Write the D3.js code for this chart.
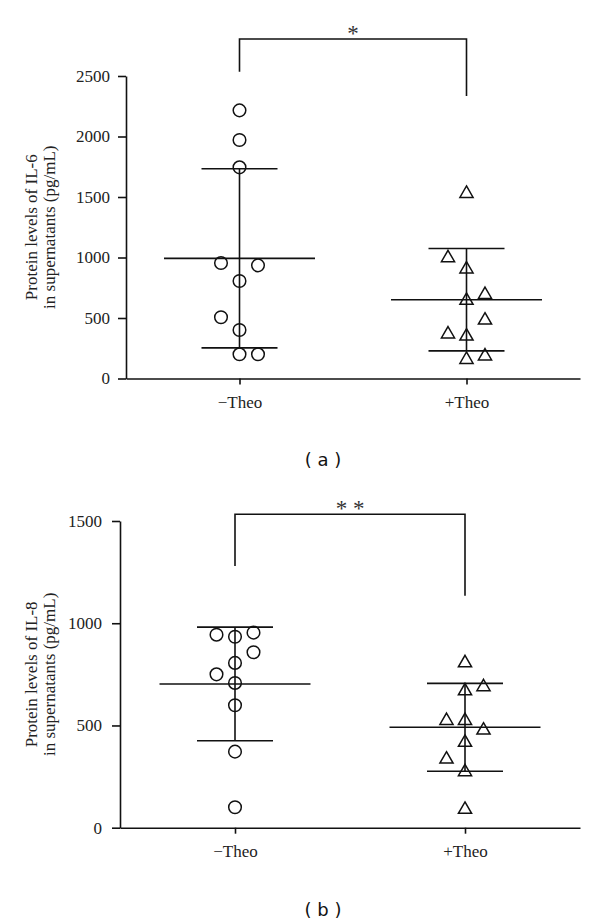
<!DOCTYPE html>
<html>
<head>
<meta charset="utf-8">
<script src="https://d3js.org/d3.v7.min.js"></script>
<style>
body { margin: 0; background: #fff; }
</style>
</head>
<body>
<div id="chart"></div>
<script>
var groups = ["\u2212Theo", "+Theo"];

/* (a) IL-6 */
var il6Title = ["Protein levels of IL-6", "in supernatants (pg/mL)"];
var il6Ticks = [0, 500, 1000, 1500, 2000, 2500];
var il6Minus = [2216, 1971, 1745, 954, 935, 806, 506, 401, 200, 200];
var il6MinusSlot = [0, 0, 0, -1, 1, 0, -1, 0, 0, 1];
var il6Plus = [1544, 1012, 919, 709, 660, 497, 382, 365, 200, 172];
var il6PlusSlot = [0, -1, 0, 1, 0, 1, -1, 0, 1, 0];
var il6Mean = [993, 651];
var il6Sd = [740, 423];
var il6Bracket = [2806, 2535, 2335];   // top, left leg end, right leg end
var il6Sig = "*";

/* (b) IL-8 */
var il8Title = ["Protein levels of IL-8", "in supernatants (pg/mL)"];
var il8Ticks = [0, 500, 1000, 1500];
var il8Minus = [944, 934, 954, 858, 806, 750, 708, 599, 372, 100];
var il8MinusSlot = [-1, 0, 1, 1, 0, -1, 0, 0, 0, 0];
var il8Plus = [815, 678, 698, 533, 533, 486, 426, 344, 282, 98];
var il8PlusSlot = [0, 0, 1, -1, 0, 1, 0, -1, 0, 0];
var il8Mean = [703, 491];
var il8Sd = [278, 215];
var il8Bracket = [1533, 1280, 1134];
var il8Sig = "* *";

var serif = "'Liberation Serif', 'Times New Roman', serif";
var ink = "#111";

var svg = d3.select("#chart").append("svg")
    .attr("width", 600)
    .attr("height", 923);

function drawPanel(p)
{
    var g = svg.append("g");

    var x = d3.scalePoint().domain(groups).range([p.left, 580]).padding(0.5);
    var y = d3.scaleLinear().domain([0, d3.max(p.ticks)]).range([p.bottom, p.top]);
    var jit = d3.scaleLinear().domain([-1, 1]).range([-18.5, 18.5]);

    /* axes */
    var ya = g.append("g")
        .attr("transform", "translate(" + p.left + ",0)")
        .call(d3.axisLeft(y).tickValues(p.ticks).tickFormat(d3.format("d"))
            .tickSize(8).tickSizeOuter(0).tickPadding(p.yPad));
    var xa = g.append("g")
        .attr("transform", "translate(0," + p.bottom + ")")
        .call(d3.axisBottom(x).tickSize(6).tickSizeOuter(0).tickPadding(11));
    [ya, xa].forEach(function(a) {
        a.attr("color", ink);
        a.selectAll("path, line").attr("stroke-width", 1.6);
        a.selectAll("text")
            .attr("font-family", serif)
            .attr("font-size", 17)
            .attr("fill", "#222");
    });

    /* y title */
    p.title.forEach(function(t, i) {
        g.append("text")
            .attr("transform", "translate(" + (37 + i * 18) + "," + ((p.top + p.bottom) / 2) + ") rotate(-90)")
            .attr("text-anchor", "middle")
            .attr("font-family", serif)
            .attr("font-size", 17)
            .attr("fill", "#222")
            .text(t);
    });

    /* mean +- SD */
    groups.forEach(function(grp, i) {
        var cx = x(grp);
        var hi = y(p.mean[i] + p.sd[i]), lo = y(p.mean[i] - p.sd[i]);
        var segs = [
            [cx, hi, cx, lo],
            [cx - 75.5, y(p.mean[i]), cx + 75.5, y(p.mean[i])],
            [cx - 38, hi, cx + 38, hi],
            [cx - 38, lo, cx + 38, lo]
        ];
        g.selectAll(null).data(segs).enter().append("line")
            .attr("x1", d => d[0]).attr("y1", d => d[1])
            .attr("x2", d => d[2]).attr("y2", d => d[3])
            .attr("stroke", ink)
            .attr("stroke-width", 1.6);
    });

    /* points */
    var circ = p.minus.map((v, i) => ({v: v, s: p.minusSlot[i]}));
    g.selectAll(null).data(circ).enter().append("circle")
        .attr("cx", d => x(groups[0]) + jit(d.s))
        .attr("cy", d => y(d.v))
        .attr("r", 6.3)
        .attr("fill", "none")
        .attr("stroke", ink)
        .attr("stroke-width", 1.5);

    var tri = p.plus.map((v, i) => ({v: v, s: p.plusSlot[i]}));
    var triSym = d3.symbol(d3.symbolTriangle, 75);
    g.selectAll(null).data(tri).enter().append("path")
        .attr("d", triSym)
        .attr("transform", d => "translate(" + (x(groups[1]) + jit(d.s)) + "," + (y(d.v) + 1.9) + ")")
        .attr("fill", "none")
        .attr("stroke", ink)
        .attr("stroke-width", 1.5);

    /* significance bracket */
    var b = p.bracket;
    g.append("path")
        .attr("d", "M" + x(groups[0]) + "," + y(b[1]) + "V" + y(b[0]) +
                   "H" + x(groups[1]) + "V" + y(b[2]))
        .attr("fill", "none")
        .attr("stroke", ink)
        .attr("stroke-width", 1.6);
    g.append("text")
        .attr("x", (x(groups[0]) + x(groups[1])) / 2)
        .attr("y", y(b[0]) + 2)
        .attr("text-anchor", "middle")
        .attr("font-family", serif)
        .attr("font-size", 23)
        .attr("fill", "#333")
        .text(p.sig);

    /* panel caption */
    g.append("text")
        .attr("x", 323)
        .attr("y", p.capY)
        .attr("text-anchor", "middle")
        .attr("font-family", "'DejaVu Sans', sans-serif")
        .attr("font-size", 18)
        .attr("fill", "#111")
        .text(p.caption);
}

drawPanel({
    title: il6Title, ticks: il6Ticks,
    minus: il6Minus, minusSlot: il6MinusSlot,
    plus: il6Plus, plusSlot: il6PlusSlot,
    mean: il6Mean, sd: il6Sd, bracket: il6Bracket, sig: il6Sig,
    left: 126, top: 76, bottom: 378.5, yPad: 8,
    caption: "( a )", capY: 466
});

drawPanel({
    title: il8Title, ticks: il8Ticks,
    minus: il8Minus, minusSlot: il8MinusSlot,
    plus: il8Plus, plusSlot: il8PlusSlot,
    mean: il8Mean, sd: il8Sd, bracket: il8Bracket, sig: il8Sig,
    left: 120, top: 521, bottom: 827.7, yPad: 10,
    caption: "( b )", capY: 916
});
</script>
</body>
</html>
